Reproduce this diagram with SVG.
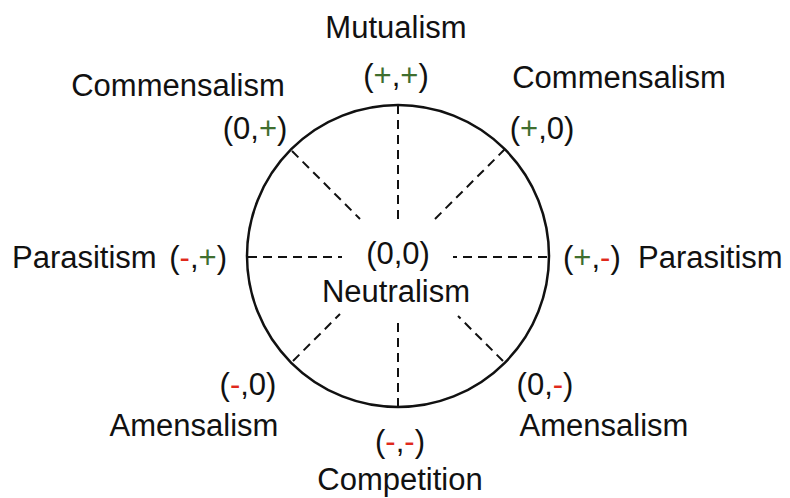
<svg xmlns="http://www.w3.org/2000/svg" width="790" height="498" viewBox="0 0 790 498">
<style>
text{font-family:"Liberation Sans",Arial,sans-serif;font-size:31px;fill:#111}
.g{fill:#3f6e2e}
.r{fill:#e0281c}
.d{stroke:#111;stroke-width:2;stroke-dasharray:9,6;fill:none}
</style>
<rect width="790" height="498" fill="#fff"/>
<g id="connectors">
<circle cx="398" cy="256" r="151" fill="none" stroke="#111" stroke-width="2.5"/>
<line class="d" x1="398" y1="105" x2="398" y2="220"/>
<line class="d" x1="398" y1="407" x2="398" y2="318"/>
<line class="d" x1="248" y1="257" x2="342" y2="257"/>
<line class="d" x1="547" y1="257" x2="453" y2="257"/>
<line class="d" x1="292" y1="151" x2="360" y2="219"/>
<line class="d" x1="505" y1="149" x2="435" y2="219"/>
<line class="d" x1="293" y1="361" x2="340" y2="314"/>
<line class="d" x1="503" y1="361" x2="458" y2="316"/>
</g>
<g id="mutualism"><text x="396" y="38" text-anchor="middle">Mutualism</text><text x="396" y="86" text-anchor="middle">(<tspan class="g">+</tspan>,<tspan class="g">+</tspan>)</text></g>
<g id="commensalism-left"><text x="178" y="96" text-anchor="middle">Commensalism</text><text x="255" y="139" text-anchor="middle">(0,<tspan class="g">+</tspan>)</text></g>
<g id="commensalism-right"><text x="619" y="88" text-anchor="middle">Commensalism</text><text x="542" y="139" text-anchor="middle">(<tspan class="g">+</tspan>,0)</text></g>
<g id="parasitism-left"><text x="12" y="268">Parasitism</text><text x="227" y="268" text-anchor="end">(<tspan class="r">-</tspan>,<tspan class="g">+</tspan>)</text></g>
<g id="parasitism-right"><text x="563" y="268">(<tspan class="g">+</tspan>,<tspan class="r">-</tspan>)</text><text x="638" y="268">Parasitism</text></g>
<g id="neutralism"><text x="398" y="264" text-anchor="middle">(0,0)</text><text x="396" y="302" text-anchor="middle">Neutralism</text></g>
<g id="amensalism-left"><text x="248" y="395" text-anchor="middle">(<tspan class="r">-</tspan>,0)</text><text x="194" y="436" text-anchor="middle">Amensalism</text></g>
<g id="amensalism-right"><text x="545" y="395" text-anchor="middle">(0,<tspan class="r">-</tspan>)</text><text x="604" y="436" text-anchor="middle">Amensalism</text></g>
<g id="competition"><text x="400" y="452" text-anchor="middle">(<tspan class="r">-</tspan>,<tspan class="r">-</tspan>)</text><text x="400" y="490" text-anchor="middle">Competition</text></g>
</svg>
